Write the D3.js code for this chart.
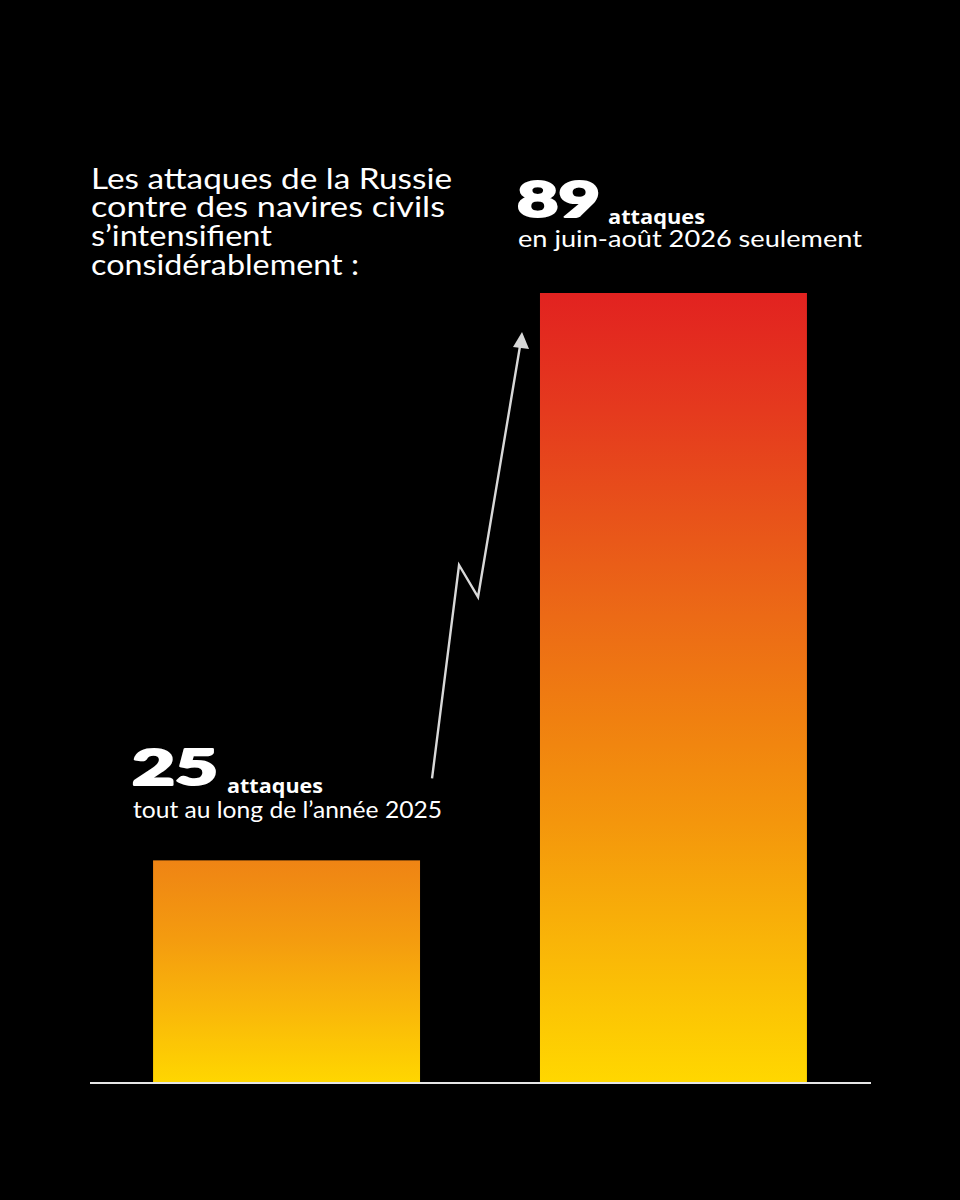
<!DOCTYPE html>
<html>
<head>
<meta charset="utf-8">
<script src="https://cdn.jsdelivr.net/npm/d3@7"></script>
<style>
  html, body { margin: 0; padding: 0; background: #000; }
  svg { display: block; }
</style>
</head>
<body>
<script>
// ---- data ----
const categories = ["2025", "juin-août 2026"];
const values = [25, 89];
const bigLabels = ["25", "89"];
const unitLabel = "attaques";
const subLabels = ["tout au long de l’année 2025", "en juin-août 2026 seulement"];
const titleLines = ["Les attaques de la Russie", "contre des navires civils", "s’intensifient", "considérablement :"];
const gradTall = ["#e22220", "#e53a1e", "#e8521a", "#ec6a16", "#f08010", "#f4960c", "#f9b408", "#ffd700"];
const gradTallOffsets = [0, 0.15, 0.28, 0.41, 0.54, 0.67, 0.82, 1];
const gradShort = ["#ef8414", "#f49b0f", "#f9b50a", "#ffd600"];
const gradShortOffsets = [0, 0.35, 0.65, 1];

const W = 960, H = 1200;
const svg = d3.select("body").append("svg").attr("width", W).attr("height", H);
svg.append("rect").attr("width", W).attr("height", H).attr("fill", "#000");

const x = d3.scaleBand().domain(categories).range([90, 870]).paddingInner(0.31).paddingOuter(0.163);
const y = d3.scaleLinear().domain([0, 89]).range([1082, 293]);

const defs = svg.append("defs");
[[gradShort, gradShortOffsets], [gradTall, gradTallOffsets]].forEach(([cols, offs], i) => {
  const g = defs.append("linearGradient").attr("id", "g" + i)
    .attr("x1", 0).attr("x2", 0).attr("y1", 0).attr("y2", 1);
  g.selectAll("stop").data(cols).join("stop")
    .attr("offset", (d, k) => offs[k]).attr("stop-color", d => d);
});

svg.selectAll("rect.bar").data(values).join("rect").attr("class", "bar")
  .attr("x", (d, i) => x(categories[i]))
  .attr("width", x.bandwidth())
  .attr("y", d => y(d))
  .attr("height", d => y(0) - y(d))
  .attr("fill", (d, i) => `url(#g${i})`);

// baseline
svg.append("line").attr("x1", 90).attr("x2", 871).attr("y1", y(0) + 1).attr("y2", y(0) + 1)
  .attr("stroke", "#e6e6e6").attr("stroke-width", 2);

// title
const title = svg.append("text").attr("fill", "#fff")
  .attr("font-family", "Lato, 'Open Sans', sans-serif").attr("font-size", 28);
const titleY = [189, 217, 246, 275];
const titleW = [361, 354, 181, 268];
titleLines.forEach((t, i) => {
  title.append("tspan").attr("x", 91).attr("y", titleY[i]).text(t)
    .attr("textLength", titleW[i]).attr("lengthAdjust", "spacingAndGlyphs");
});

// value labels
const labelCfg = [
  { bx: 132, by: 785, bw: 88, ux: 227, uy: 793, uw: 96, sy: 818, sw: 309 },
  { bx: 517, by: 217, bw: 85, ux: 608, uy: 224, uw: 97, sy: 247, sw: 344 }
];
values.forEach((v, i) => {
  const c = labelCfg[i];
  svg.append("text").attr("x", c.bx).attr("y", c.by).attr("fill", "#fff")
    .attr("stroke", "#fff").attr("stroke-width", 2.2).attr("stroke-linejoin", "round")
    .attr("font-family", "Lato, 'Open Sans', sans-serif").attr("font-weight", 900)
    .attr("font-size", 50).attr("textLength", c.bw - 2).attr("lengthAdjust", "spacingAndGlyphs")
    .text(bigLabels[i]);
  svg.append("text").attr("x", c.ux).attr("y", c.uy).attr("fill", "#fff")
    .attr("font-family", "'Open Sans', sans-serif").attr("font-weight", 700)
    .attr("font-size", 20).attr("textLength", c.uw).attr("lengthAdjust", "spacingAndGlyphs")
    .text(unitLabel);
  svg.append("text").attr("x", c.bx + 1).attr("y", c.sy).attr("fill", "#fff")
    .attr("font-family", "Lato, 'Open Sans', sans-serif").attr("font-weight", 400)
    .attr("font-size", 24).attr("textLength", c.sw).attr("lengthAdjust", "spacingAndGlyphs")
    .text(subLabels[i]);
});

// arrow
const x0 = x(categories[0]) + x.bandwidth();
const pts = [
  [x0 + 12, y(25) - 82],
  [x0 + 39, 565],
  [x0 + 58, 597],
  [x0 + 100, 346]
];
svg.append("path").attr("d", d3.line()(pts)).attr("fill", "none")
  .attr("stroke", "#d9d9d9").attr("stroke-width", 2.4).attr("stroke-linejoin", "miter");
const tip = [x0 + 102, 332];
svg.append("path")
  .attr("d", `M${tip[0]},${tip[1]} L${tip[0] - 9},${tip[1] + 15} L${tip[0] + 7},${tip[1] + 17} Z`)
  .attr("fill", "#d9d9d9");
</script>
</body>
</html>
